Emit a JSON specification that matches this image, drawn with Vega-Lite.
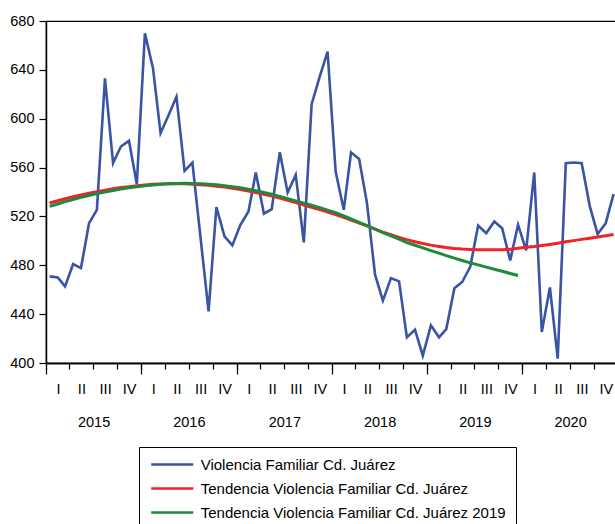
{
  "$schema": "https://vega.github.io/schema/vega-lite/v6.json",
  "width": 572,
  "height": 342,
  "autosize": {"type": "none"},
  "padding": {"left": 46, "top": 21, "right": 0, "bottom": 165},
  "background": "white",
  "data": {
    "values": [
      {"fecha": "2015-01-15", "obs": 470.9, "tend": 531.0, "tend19": 528.2},
      {"fecha": "2015-02-15", "obs": 470.0, "tend": 532.8, "tend19": 530.2},
      {"fecha": "2015-03-15", "obs": 462.7, "tend": 534.5, "tend19": 532.1},
      {"fecha": "2015-04-15", "obs": 481.0, "tend": 536.1, "tend19": 533.9},
      {"fecha": "2015-05-15", "obs": 477.7, "tend": 537.6, "tend19": 535.6},
      {"fecha": "2015-06-15", "obs": 514.5, "tend": 539.0, "tend19": 537.2},
      {"fecha": "2015-07-15", "obs": 525.4, "tend": 540.3, "tend19": 538.7},
      {"fecha": "2015-08-15", "obs": 633.0, "tend": 541.5, "tend19": 540.0},
      {"fecha": "2015-09-15", "obs": 563.6, "tend": 542.6, "tend19": 541.3},
      {"fecha": "2015-10-15", "obs": 577.2, "tend": 543.6, "tend19": 542.4},
      {"fecha": "2015-11-15", "obs": 581.9, "tend": 544.4, "tend19": 543.4},
      {"fecha": "2015-12-15", "obs": 546.5, "tend": 545.2, "tend19": 544.3},
      {"fecha": "2016-01-15", "obs": 670.0, "tend": 545.8, "tend19": 545.1},
      {"fecha": "2016-02-15", "obs": 641.4, "tend": 546.3, "tend19": 545.8},
      {"fecha": "2016-03-15", "obs": 588.1, "tend": 546.6, "tend19": 546.3},
      {"fecha": "2016-04-15", "obs": 603.0, "tend": 546.8, "tend19": 546.7},
      {"fecha": "2016-05-15", "obs": 618.0, "tend": 546.8, "tend19": 547.0},
      {"fecha": "2016-06-15", "obs": 557.3, "tend": 546.7, "tend19": 547.1},
      {"fecha": "2016-07-15", "obs": 564.0, "tend": 546.4, "tend19": 547.0},
      {"fecha": "2016-08-15", "obs": 503.0, "tend": 546.0, "tend19": 546.8},
      {"fecha": "2016-09-15", "obs": 442.3, "tend": 545.5, "tend19": 546.4},
      {"fecha": "2016-10-15", "obs": 527.6, "tend": 544.8, "tend19": 545.9},
      {"fecha": "2016-11-15", "obs": 503.6, "tend": 544.0, "tend19": 545.2},
      {"fecha": "2016-12-15", "obs": 496.3, "tend": 543.1, "tend19": 544.4},
      {"fecha": "2017-01-15", "obs": 513.2, "tend": 542.0, "tend19": 543.4},
      {"fecha": "2017-02-15", "obs": 524.0, "tend": 540.8, "tend19": 542.3},
      {"fecha": "2017-03-15", "obs": 556.0, "tend": 539.5, "tend19": 541.0},
      {"fecha": "2017-04-15", "obs": 522.3, "tend": 538.1, "tend19": 539.6},
      {"fecha": "2017-05-15", "obs": 526.0, "tend": 536.6, "tend19": 538.1},
      {"fecha": "2017-06-15", "obs": 572.6, "tend": 535.0, "tend19": 536.4},
      {"fecha": "2017-07-15", "obs": 539.6, "tend": 533.2, "tend19": 534.6},
      {"fecha": "2017-08-15", "obs": 554.0, "tend": 531.3, "tend19": 532.7},
      {"fecha": "2017-09-15", "obs": 498.7, "tend": 529.3, "tend19": 530.9},
      {"fecha": "2017-10-15", "obs": 611.9, "tend": 527.5, "tend19": 529.1},
      {"fecha": "2017-11-15", "obs": 634.5, "tend": 525.6, "tend19": 527.2},
      {"fecha": "2017-12-15", "obs": 655.0, "tend": 523.6, "tend19": 525.2},
      {"fecha": "2018-01-15", "obs": 556.8, "tend": 521.5, "tend19": 523.1},
      {"fecha": "2018-02-15", "obs": 525.4, "tend": 519.2, "tend19": 520.5},
      {"fecha": "2018-03-15", "obs": 572.3, "tend": 516.9, "tend19": 517.9},
      {"fecha": "2018-04-15", "obs": 567.1, "tend": 514.5, "tend19": 515.2},
      {"fecha": "2018-05-15", "obs": 530.9, "tend": 512.2, "tend19": 512.4},
      {"fecha": "2018-06-15", "obs": 472.3, "tend": 509.6, "tend19": 509.6},
      {"fecha": "2018-07-15", "obs": 451.0, "tend": 507.2, "tend19": 506.8},
      {"fecha": "2018-08-15", "obs": 469.5, "tend": 505.0, "tend19": 504.0},
      {"fecha": "2018-09-15", "obs": 466.8, "tend": 502.9, "tend19": 501.4},
      {"fecha": "2018-10-15", "obs": 421.0, "tend": 501.0, "tend19": 498.6},
      {"fecha": "2018-11-15", "obs": 427.3, "tend": 499.3, "tend19": 496.4},
      {"fecha": "2018-12-15", "obs": 406.0, "tend": 497.8, "tend19": 494.2},
      {"fecha": "2019-01-15", "obs": 430.8, "tend": 496.5, "tend19": 492.0},
      {"fecha": "2019-02-15", "obs": 421.0, "tend": 495.4, "tend19": 489.9},
      {"fecha": "2019-03-15", "obs": 427.8, "tend": 494.5, "tend19": 487.9},
      {"fecha": "2019-04-15", "obs": 461.3, "tend": 493.8, "tend19": 485.9},
      {"fecha": "2019-05-15", "obs": 466.3, "tend": 493.3, "tend19": 483.9},
      {"fecha": "2019-06-15", "obs": 479.0, "tend": 493.0, "tend19": 482.0},
      {"fecha": "2019-07-15", "obs": 512.6, "tend": 492.8, "tend19": 480.3},
      {"fecha": "2019-08-15", "obs": 506.3, "tend": 492.7, "tend19": 478.5},
      {"fecha": "2019-09-15", "obs": 515.9, "tend": 492.7, "tend19": 476.8},
      {"fecha": "2019-10-15", "obs": 510.4, "tend": 492.8, "tend19": 475.1},
      {"fecha": "2019-11-15", "obs": 484.0, "tend": 493.1, "tend19": 473.3},
      {"fecha": "2019-12-15", "obs": 513.2, "tend": 494.0, "tend19": 471.6},
      {"fecha": "2020-01-15", "obs": 492.2, "tend": 494.7, "tend19": null},
      {"fecha": "2020-02-15", "obs": 556.0, "tend": 495.4, "tend19": null},
      {"fecha": "2020-03-15", "obs": 425.4, "tend": 496.2, "tend19": null},
      {"fecha": "2020-04-15", "obs": 461.9, "tend": 497.1, "tend19": null},
      {"fecha": "2020-05-15", "obs": 403.5, "tend": 498.1, "tend19": null},
      {"fecha": "2020-06-15", "obs": 563.6, "tend": 499.2, "tend19": null},
      {"fecha": "2020-07-15", "obs": 564.1, "tend": 500.2, "tend19": null},
      {"fecha": "2020-08-15", "obs": 563.6, "tend": 501.2, "tend19": null},
      {"fecha": "2020-09-15", "obs": 528.2, "tend": 502.2, "tend19": null},
      {"fecha": "2020-10-15", "obs": 505.5, "tend": 503.2, "tend19": null},
      {"fecha": "2020-11-15", "obs": 514.5, "tend": 504.2, "tend19": null},
      {"fecha": "2020-12-15", "obs": 538.2, "tend": 505.2, "tend19": null}
    ]
  },
  "transform": [
    {"fold": ["obs", "tend", "tend19"], "as": ["serie", "valor"]},
    {"filter": "datum.valor != null"}
  ],
  "encoding": {
    "y": {
      "field": "valor",
      "type": "quantitative",
      "scale": {"domain": [400, 680], "nice": false, "zero": false},
      "axis": {
        "title": null,
        "values": [400, 440, 480, 520, 560, 600, 640, 680],
        "tickSize": 7,
        "labelPadding": 5,
        "grid": false,
        "domainWidth": 1.5
      }
    },
    "color": {
      "field": "serie",
      "type": "nominal",
      "scale": {"domain": ["obs", "tend", "tend19"], "range": ["#3953a5", "#ee2428", "#1e8a3c"]},
      "legend": {
        "orient": "none",
        "legendX": 93,
        "legendY": 426,
        "title": null,
        "direction": "vertical",
        "symbolType": "M-4,0H4",
        "symbolSize": 110.25,
        "symbolStrokeWidth": 2.5,
        "symbolOffset": 15.7,
        "labelFont": "Liberation Sans",
        "labelFontSize": 15,
        "labelColor": "#000",
        "labelLimit": 0,
        "labelOffset": 21,
        "strokeColor": "#000",
        "padding": 10,
        "rowPadding": 8,
        "labelExpr": "datum.label == 'obs' ? 'Violencia Familiar Cd. Juárez' : (datum.label == 'tend' ? 'Tendencia Violencia Familiar Cd. Juárez' : 'Tendencia Violencia Familiar Cd. Juárez 2019')"
      }
    }
  },
  "layer": [
    {
      "transform": [{"filter": "datum.serie == 'obs'"}],
      "mark": {"type": "line", "strokeWidth": 2.6},
      "encoding": {
        "x": {
          "field": "fecha",
          "type": "temporal",
          "scale": {"type": "utc", "domain": [{"year": 2015, "month": 1, "date": 1, "utc": true}, {"year": 2021, "month": 1, "date": 1, "utc": true}]},
          "axis": {
            "orient": "bottom",
            "title": null,
            "grid": false,
            "values": [
              {"year": 2015, "month": 1, "date": 1, "utc": true}, {"year": 2015, "month": 4, "date": 1, "utc": true}, {"year": 2015, "month": 7, "date": 1, "utc": true}, {"year": 2015, "month": 10, "date": 1, "utc": true},
              {"year": 2016, "month": 1, "date": 1, "utc": true}, {"year": 2016, "month": 4, "date": 1, "utc": true}, {"year": 2016, "month": 7, "date": 1, "utc": true}, {"year": 2016, "month": 10, "date": 1, "utc": true},
              {"year": 2017, "month": 1, "date": 1, "utc": true}, {"year": 2017, "month": 4, "date": 1, "utc": true}, {"year": 2017, "month": 7, "date": 1, "utc": true}, {"year": 2017, "month": 10, "date": 1, "utc": true},
              {"year": 2018, "month": 1, "date": 1, "utc": true}, {"year": 2018, "month": 4, "date": 1, "utc": true}, {"year": 2018, "month": 7, "date": 1, "utc": true}, {"year": 2018, "month": 10, "date": 1, "utc": true},
              {"year": 2019, "month": 1, "date": 1, "utc": true}, {"year": 2019, "month": 4, "date": 1, "utc": true}, {"year": 2019, "month": 7, "date": 1, "utc": true}, {"year": 2019, "month": 10, "date": 1, "utc": true},
              {"year": 2020, "month": 1, "date": 1, "utc": true}, {"year": 2020, "month": 4, "date": 1, "utc": true}, {"year": 2020, "month": 7, "date": 1, "utc": true}, {"year": 2020, "month": 10, "date": 1, "utc": true}
            ],
            "tickSize": 6,
            "labelExpr": "['I','II','III','IV'][floor(utcmonth(datum.value)/3)]",
            "labelOffset": 11.9,
            "labelPadding": 13,
            "labelOverlap": false,
            "labelFlush": false,
            "domainWidth": 1.5
          }
        }
      }
    },
    {
      "transform": [{"filter": "datum.serie != 'obs'"}],
      "mark": {"type": "line", "strokeWidth": 3},
      "encoding": {
        "x": {
          "field": "fecha",
          "type": "temporal",
          "scale": {"type": "utc", "domain": [{"year": 2015, "month": 1, "date": 1, "utc": true}, {"year": 2021, "month": 1, "date": 1, "utc": true}]},
          "axis": {
            "orient": "bottom",
            "title": null,
            "grid": false,
            "values": [
              {"year": 2015, "month": 1, "date": 1, "utc": true}, {"year": 2016, "month": 1, "date": 1, "utc": true}, {"year": 2017, "month": 1, "date": 1, "utc": true},
              {"year": 2018, "month": 1, "date": 1, "utc": true}, {"year": 2019, "month": 1, "date": 1, "utc": true}, {"year": 2020, "month": 1, "date": 1, "utc": true}
            ],
            "tickSize": 11,
            "labelExpr": "utcFormat(datum.value, '%Y')",
            "labelOffset": 47.6,
            "labelPadding": 41.5,
            "labelOverlap": false,
            "labelFlush": false,
            "domainWidth": 1.5
          }
        }
      }
    }
  ],
  "resolve": {"axis": {"x": "independent"}},
  "config": {
    "view": {"stroke": "#000", "strokeWidth": 1.2},
    "axis": {
      "labelFont": "Liberation Sans",
      "labelFontSize": 14.5,
      "labelColor": "#000",
      "tickColor": "#000",
      "domainColor": "#000",
      "tickWidth": 1.2
    },
    "legend": {"strokeWidth": 1}
  }
}
